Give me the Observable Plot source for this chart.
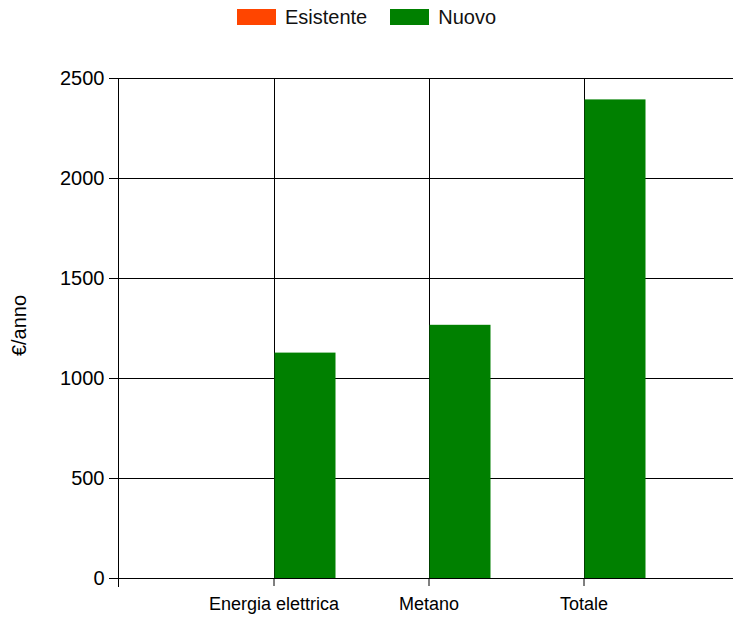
<!DOCTYPE html>
<html>
<head>
<meta charset="utf-8">
<script src="https://cdn.jsdelivr.net/npm/d3@7"></script>
<script src="https://cdn.jsdelivr.net/npm/@observablehq/plot@0.6"></script>
<style>
  html, body { margin: 0; padding: 0; background: #fff; }
  body { width: 733px; height: 618px; overflow: hidden; font-family: "Liberation Sans", Arial, sans-serif; }
  .legend { height: 34px; display: flex; justify-content: center; align-items: center; gap: 23px; font-size: 20px; color: #111; }
  .legend .item { display: flex; align-items: center; gap: 9px; }
  .legend .sw { width: 39px; height: 16px; display: inline-block; }
  svg { display: block; }
</style>
</head>
<body>
<div id="chart"></div>
<script>
// Costi annui per voce: impianto esistente e nuovo
const categories = ["Energia elettrica", "Metano", "Totale"];
const series = ["Esistente", "Nuovo"];
const colors = ["#FF4500", "#008000"];
const esistente = [0, 0, 0];
const nuovo = [1127, 1266, 2393];
const yTicks = [0, 500, 1000, 1500, 2000, 2500];

const rows = categories.flatMap((c, i) => [
  {cat: c, series: "Esistente", value: esistente[i]},
  {cat: c, series: "Nuovo", value: nuovo[i]}
]);

const root = document.getElementById("chart");

// Legenda
const legend = document.createElement("div");
legend.className = "legend";
series.forEach((s, i) => {
  const item = document.createElement("span");
  item.className = "item";
  const sw = document.createElement("span");
  sw.className = "sw";
  sw.style.background = colors[i];
  const lab = document.createElement("span");
  lab.textContent = s;
  item.append(sw, lab);
  legend.append(item);
});
root.append(legend);

const W = 733, H = 584;
const mL = 118, mT = 44, mB = 40;
const barW = 61;

const plot = Plot.plot({
  width: W,
  height: H,
  marginLeft: mL,
  marginRight: 0,
  marginTop: mT,
  marginBottom: mB,
  style: {fontFamily: "'Liberation Sans', Arial, sans-serif", color: "#000", background: "#fff"},
  x: {type: "band", domain: categories, range: [mL, mL + 155 * 4], paddingInner: 0, paddingOuter: 0.5, label: null},
  y: {domain: [0, 2500], label: null},
  color: {domain: series, range: colors},
  marks: [
    // griglia orizzontale
    Plot.ruleY(yTicks, {stroke: "#000", strokeWidth: 1, shapeRendering: "crispEdges"}),
    // griglia verticale sulle categorie
    Plot.ruleX(categories, {y1: 0, y2: 2500, stroke: "#000", strokeWidth: 1, shapeRendering: "crispEdges"}),
    // barre
    Plot.barY(rows.filter(d => d.series === "Esistente"), {
      x: "cat", y: "value", fill: "series",
      insetLeft: 78.5 - barW, insetRight: 77.5 + 1
    }),
    Plot.barY(rows.filter(d => d.series === "Nuovo"), {
      x: "cat", y: "value", fill: "series",
      insetLeft: 78.5, insetRight: 155 - 78.5 - barW
    }),
    // asse verticale, prolungato sotto lo zero
    Plot.frame({anchor: "left", stroke: "#000", insetBottom: -8, shapeRendering: "crispEdges"}),
    Plot.ruleY([0], {stroke: "#000", strokeWidth: 1, shapeRendering: "crispEdges"}),
    Plot.axisY({ticks: yTicks, tickSize: 9, tickPadding: 5, fontSize: 20, label: null, tickFormat: d => String(d)}),
    Plot.axisX({tickSize: 8, tickPadding: 11, fontSize: 18, label: null}),
    Plot.text(["€/anno"], {
      frameAnchor: "left", dx: -99, dy: -3, rotate: -90,
      textAnchor: "middle", lineAnchor: "middle", fontSize: 20, fill: "#000"
    })
  ]
});
root.append(plot);
</script>
</body>
</html>
